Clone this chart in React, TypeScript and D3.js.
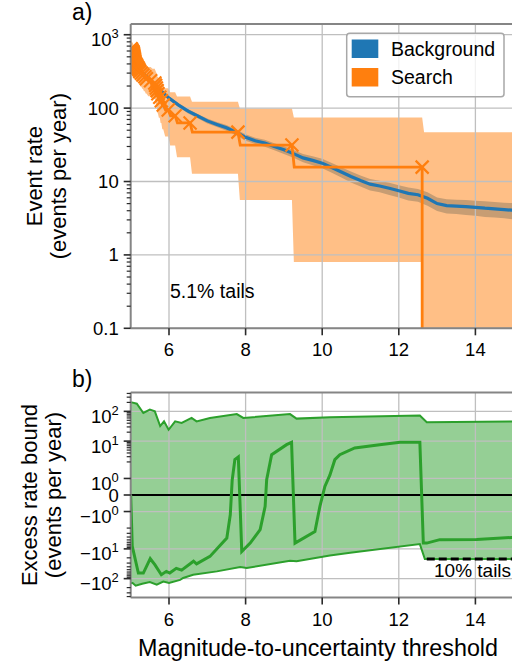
import React from "react";
import * as d3 from "d3";

const FONT = "'Liberation Sans', Arial, Helvetica, sans-serif";

// ---------- panel a: event rate ----------
const bgThreshold = [
  5.0, 5.25, 5.5, 5.75, 6.0, 6.25, 6.5, 6.75, 7.0, 7.25, 7.5, 7.75, 8.0, 8.25,
  8.5, 8.75, 9.0, 9.25, 9.5, 9.75, 10.0, 10.25, 10.5, 10.75, 11.0, 11.25, 11.5,
  11.75, 12.0, 12.25, 12.5, 12.75, 13.0, 13.25, 13.5, 13.75, 14.0, 14.25, 14.5,
  14.75, 15.0,
];
const bgRate = [
  470, 330, 241, 180, 137, 110, 91, 78, 67, 60, 54, 47, 40, 36, 33.5, 30, 27,
  24, 21, 19.4, 17.8, 15.5, 13.5, 11.7, 10.3, 9.2, 8.7, 8.1, 7.5, 6.9, 6.6, 5.9,
  5.0, 4.7, 4.62, 4.55, 4.45, 4.33, 4.25, 4.15, 4.05,
];
const bgRelErr = [
  0.04, 0.04, 0.05, 0.05, 0.06, 0.06, 0.07, 0.07, 0.08, 0.08, 0.09, 0.09, 0.1,
  0.1, 0.11, 0.11, 0.12, 0.12, 0.13, 0.14, 0.15, 0.15, 0.16, 0.17, 0.17, 0.18,
  0.18, 0.19, 0.19, 0.2, 0.2, 0.21, 0.21, 0.22, 0.22, 0.23, 0.23, 0.24, 0.24,
  0.24, 0.25,
];

// search events: threshold of each event and the rate of events at or above it
const searchThreshold = [
  5.01, 5.02, 5.03, 5.05, 5.06, 5.065, 5.07, 5.075, 5.08, 5.085, 5.09, 5.095,
  5.1, 5.105, 5.11, 5.12, 5.14, 5.16, 5.18, 5.2, 5.22, 5.24, 5.28, 5.32, 5.37,
  5.41, 5.52, 5.63, 5.65, 5.67, 5.69, 5.71, 5.76, 5.8, 5.85, 5.98, 6.16, 6.55,
  7.8, 9.21, 12.61,
];
const searchRate = [
  644, 628, 612, 597, 581, 565, 550, 534, 518, 502, 487, 471, 455, 440, 424,
  408, 393, 377, 361, 345, 330, 314, 298, 283, 267, 251, 236, 220, 204, 188,
  173, 157, 141, 126, 110, 94, 78.5, 62.8, 47.1, 31.4, 15.7,
];
// confidence band per step (last entry: beyond the final event)
const searchUpper = [
  835, 817, 800, 782, 764, 746, 729, 711, 693, 675, 657, 639, 621, 603, 585,
  567, 548, 530, 512, 493, 475, 456, 438, 419, 400, 382, 363, 344, 325, 305,
  286, 266, 247, 227, 207, 186, 165, 144, 122, 99, 74.4, 47,
];
const searchLower = [
  488, 474, 460, 447, 433, 420, 406, 393, 379, 366, 352, 339, 326, 312, 299,
  286, 273, 260, 247, 234, 221, 208, 195, 183, 170, 158, 145, 133, 121, 109, 97,
  85, 74, 62.5, 51.7, 41, 30.9, 21.4, 12.8, 5.6, 0.8, 0,
];

const xTicks = [6, 8, 10, 12, 14];
const rateTicks = [0.1, 1, 10, 100, 1000];
const rateTickLabels = ["0.1", "1", "10", "100", "10^3"];

// ---------- panel b: excess rate bound ----------
const excessUpperX = [
  5.0, 5.03, 5.16, 5.33, 5.5, 5.63, 5.77, 5.87, 5.99, 6.16, 6.33, 6.59, 6.72,
  7.07, 7.77, 7.94, 9.16, 9.33, 10.2, 12.55, 12.73, 15.0,
];
const excessUpperV = [
  200, 200, 181, 88, 114, 100, 32, 46, 24, 46, 41, 60, 46, 60, 81, 60, 81, 57,
  63, 72, 43, 46,
];
const excessLowerX = [
  5.0, 5.05, 5.13, 5.3, 5.5, 5.68, 5.85, 6.0, 6.29, 6.37, 6.63, 7.25, 7.86,
  8.03, 9.16, 9.33, 10.2, 10.73, 12.55, 12.68, 15.0,
];
const excessLowerV = [
  -140, -140, -173, -148, -130, -160, -125, -140, -110, -95, -74, -57, -41, -44,
  -25, -26, -16.6, -13.5, -6.9, -21.9, -21.9,
];
const excessMidX = [
  5.0, 5.04, 5.2, 5.33, 5.51, 5.63, 5.8, 5.93, 6.02, 6.19, 6.33, 6.64, 6.72,
  7.07, 7.51, 7.6, 7.65, 7.72, 7.81, 7.9, 8.12, 8.38, 8.51, 8.55, 8.68, 9.07,
  9.2, 9.29, 9.81, 9.94, 10.07, 10.2, 10.33, 10.46, 10.85, 11.5, 12.03, 12.55,
  12.64, 12.73, 13.07, 14.03, 15.0,
];
const excessMidV = [
  0, -8, -65, -65, -21.4, -34, -74, -57, -65, -45, -52, -26, -32, -17.9, -4.3,
  -1.2, 0.9, 2.4, 2.93, -12.2, -6.4, -2.26, -0.69, 0.93, 3.5, 7.6, 9.1, -6.4,
  -2.6, -0.69, 0.52, 1.2, 2.38, 3.5, 5.9, 7.6, 9.1, 9.1, -6.4, -6.4, -4.9, -4.8,
  -4.1,
];
const tailStart = 12.73;
const tailLevel = -21.9;

const excessTicks = [-100, -10, -1, 0, 1, 10, 100];
const excessTickLabels = ["\u221210^2", "\u221210^1", "\u221210^0", "0", "10^0", "10^1", "10^2"];

// ---------- layout ----------
const AX_L = 130.7;
const AX_R = 513.7;
const A_TOP = 24;
const A_BOT = 328.3;
const B_TOP = 392.5;
const B_BOT = 597.5;

const BLUE = "#1f77b4";
const ORANGE = "#ff7f0e";
const GREEN = "#2ca02c";
const GRID = "#bfbfbf";
const SPINE = "#858585";
const TICK = "#2a2a2a";

// matplotlib-style symmetric log transform (linthresh 2, linscale 1)
const LINTHRESH = 2;
const LINSCALE_ADJ = 1 / (1 - 1 / 10);
function symlog(v: number): number {
  const a = Math.abs(v);
  if (a <= LINTHRESH) return v * LINSCALE_ADJ;
  return Math.sign(v) * LINTHRESH * (LINSCALE_ADJ + Math.log10(a / LINTHRESH));
}

function TickText({ x, y, label, size }: { x: number; y: number; label: string; size: number }) {
  const parts = label.split("^");
  if (parts.length === 1) {
    return (
      <text x={x} y={y + 6.5} textAnchor="end" fontSize={size}>
        {parts[0]}
      </text>
    );
  }
  return (
    <text x={x} y={y + 11.5} textAnchor="end" fontSize={size}>
      {parts[0]}
      <tspan fontSize={size * 0.7} dy={-8}>
        {parts[1]}
      </tspan>
    </text>
  );
}

export default function App() {
  const x = d3.scaleLinear().domain([5, 15]).range([AX_L, AX_R]);
  const yA = d3.scaleLog().domain([0.1, 1400]).range([A_BOT, A_TOP]);
  const yAv = (v: number) => (v > 0 ? yA(v) : A_BOT + 400);
  const yBlin = d3
    .scaleLinear()
    .domain([symlog(-430), symlog(430)])
    .range([B_BOT, B_TOP]);
  const yB = (v: number) => yBlin(symlog(v));

  // ---- background curve & band ----
  const bgPts = bgThreshold.map((t, i) => ({ t, r: bgRate[i], e: bgRelErr[i] }));
  const bgLine = d3
    .line<{ t: number; r: number }>()
    .x((d) => x(d.t))
    .y((d) => yA(d.r))(bgPts);
  const bgArea = d3
    .area<{ t: number; r: number; e: number }>()
    .x((d) => x(d.t))
    .y0((d) => yA(d.r * (1 - d.e)))
    .y1((d) => yA(d.r * (1 + d.e)))(bgPts);

  // ---- search step curve & band ----
  const n = searchThreshold.length;
  const lineLevels = [...searchRate, 0];
  type StepPt = { t: number; k: number };
  const stepPts: StepPt[] = [{ t: 5.0, k: 0 }];
  for (let k = 0; k < n; k++) {
    const nextT = k + 1 < n ? searchThreshold[k + 1] : 15;
    const dx = k === n - 1 ? 0.0 : Math.min(0.06, (nextT - searchThreshold[k]) / 2);
    stepPts.push({ t: searchThreshold[k], k });
    stepPts.push({ t: searchThreshold[k] + dx, k: k + 1 });
  }
  stepPts.push({ t: 15, k: n });
  const searchLine = d3
    .line<StepPt>()
    .x((d) => x(d.t))
    .y((d) => yAv(lineLevels[d.k]))(stepPts);

  const bandPts: StepPt[] = [{ t: 5.0, k: 0 }];
  for (let k = 0; k < n; k++) {
    const nextT = k + 1 < n ? searchThreshold[k + 1] : 15;
    const dx = Math.min(0.05, (nextT - searchThreshold[k]) / 2);
    bandPts.push({ t: searchThreshold[k], k });
    bandPts.push({ t: searchThreshold[k] + dx, k: k + 1 });
  }
  bandPts.push({ t: 15, k: n });
  const searchBand = d3
    .area<StepPt>()
    .x((d) => x(d.t))
    .y0((d) => yAv(searchLower[d.k]))
    .y1((d) => yAv(searchUpper[d.k]))(bandPts);

  // ---- panel b shapes ----
  const upperPts = excessUpperX.map((t, i) => [t, excessUpperV[i]] as [number, number]);
  const lowerPts = excessLowerX.map((t, i) => [t, excessLowerV[i]] as [number, number]);
  const midPts = excessMidX.map((t, i) => [t, excessMidV[i]] as [number, number]);
  const lineB = d3
    .line<[number, number]>()
    .x((d) => x(d[0]))
    .y((d) => yB(d[1]));
  // band between the bounds, on a shared grid of thresholds
  const gridT = Array.from(new Set([...excessUpperX, ...excessLowerX])).sort((a, b) => a - b);
  const interp = (xs: number[], vs: number[], t: number) => {
    const i = Math.max(1, Math.min(xs.length - 1, d3.bisectLeft(xs, t)));
    const t0 = xs[i - 1], t1 = xs[i];
    const u = (t - t0) / (t1 - t0);
    return yB(vs[i - 1]) + u * (yB(vs[i]) - yB(vs[i - 1]));
  };
  const bandB = d3
    .area<number>()
    .x((t) => x(t))
    .y0((t) => interp(excessLowerX, excessLowerV, t))
    .y1((t) => interp(excessUpperX, excessUpperV, t))(gridT);

  // ---- ticks ----
  const minorA: number[] = [];
  for (let d = -1; d <= 3; d++)
    for (let m = 2; m <= 9; m++) {
      const v = m * Math.pow(10, d);
      if (v > 0.1 && v < 1400) minorA.push(v);
    }
  const minorB: number[] = [];
  for (let d = 0; d <= 2; d++)
    for (let m = 2; m <= 9; m++) {
      const v = m * Math.pow(10, d);
      if (v < 430) {
        minorB.push(v);
        minorB.push(-v);
      }
    }

  const markerSize = 6.5;

  return (
    <svg
      width={512}
      height={668}
      style={{ position: "absolute", left: 0, top: 0, background: "#fff" }}
      fontFamily={FONT}
    >
      <defs>
        <clipPath id="clipA">
          <rect x={AX_L} y={A_TOP} width={AX_R - AX_L} height={A_BOT - A_TOP} />
        </clipPath>
        <clipPath id="clipB">
          <rect x={AX_L} y={B_TOP} width={AX_R - AX_L} height={B_BOT - B_TOP} />
        </clipPath>
      </defs>
      <rect x={0} y={0} width={512} height={668} fill="#fff" />

      {/* ================= panel a ================= */}
      <g clipPath="url(#clipA)">
        <path d={bgArea ?? ""} fill={BLUE} fillOpacity={0.5} />
        <path d={searchBand ?? ""} fill={ORANGE} fillOpacity={0.5} />
        {xTicks.map((t) => (
          <line key={"gxa" + t} x1={x(t)} x2={x(t)} y1={A_TOP} y2={A_BOT} stroke={GRID} strokeWidth={1.3} />
        ))}
        {rateTicks.map((v) => (
          <line key={"gya" + v} x1={AX_L} x2={AX_R} y1={yA(v)} y2={yA(v)} stroke={GRID} strokeWidth={1.3} />
        ))}
        <path d={bgLine ?? ""} fill="none" stroke={BLUE} strokeWidth={3.2} />
        <path d={searchLine ?? ""} fill="none" stroke={ORANGE} strokeWidth={2.8} />
        {searchThreshold.map((t, i) => {
          const cx = x(t);
          const cy = yA(searchRate[i]);
          return (
            <path
              key={"m" + i}
              d={`M${cx - markerSize},${cy - markerSize}L${cx + markerSize},${cy + markerSize}M${cx - markerSize},${cy + markerSize}L${cx + markerSize},${cy - markerSize}`}
              stroke={ORANGE}
              strokeWidth={2.2}
              fill="none"
            />
          );
        })}
      </g>
      <text x={170} y={298} fontSize={19.5}>
        5.1% tails
      </text>

      {/* legend */}
      <g>
        <rect x={346.7} y={33.3} width={157.3} height={63.4} rx={3} fill="#fff" fillOpacity={0.8} stroke="#a8a8a8" strokeWidth={1.5} />
        <rect x={351.7} y={39.5} width={26.6} height={18.5} fill={BLUE} />
        <rect x={351.7} y={68} width={26.6} height={18.5} fill={ORANGE} />
        <text x={391} y={56} fontSize={19.5}>Background</text>
        <text x={391} y={83.5} fontSize={19.5}>Search</text>
      </g>

      {/* axes a */}
      <line x1={AX_L} x2={AX_R} y1={A_TOP} y2={A_TOP} stroke={SPINE} strokeWidth={2} />
      <line x1={AX_L} x2={AX_L} y1={A_TOP} y2={A_BOT} stroke={SPINE} strokeWidth={2} />
      <line x1={AX_L} x2={AX_R} y1={A_BOT} y2={A_BOT} stroke={SPINE} strokeWidth={2} />
      {minorA.map((v) => (
        <line key={"mna" + v} x1={AX_L - 4} x2={AX_L} y1={yA(v)} y2={yA(v)} stroke={TICK} strokeWidth={1.2} />
      ))}
      {rateTicks.map((v, i) => (
        <g key={"ta" + v}>
          <line x1={AX_L - 7} x2={AX_L} y1={yA(v)} y2={yA(v)} stroke={TICK} strokeWidth={1.6} />
          <TickText x={AX_L - 12} y={yA(v)} label={rateTickLabels[i]} size={18.5} />
        </g>
      ))}
      {xTicks.map((t) => (
        <g key={"txa" + t}>
          <line x1={x(t)} x2={x(t)} y1={A_BOT} y2={A_BOT + 7} stroke={TICK} strokeWidth={1.6} />
          <text x={x(t)} y={A_BOT + 28} textAnchor="middle" fontSize={18.5}>
            {t}
          </text>
        </g>
      ))}
      <text x={72} y={20} fontSize={23}>a)</text>
      <text transform={`translate(42,${(A_TOP + A_BOT) / 2}) rotate(-90)`} textAnchor="middle" fontSize={22}>
        Event rate
      </text>
      <text transform={`translate(66,${(A_TOP + A_BOT) / 2}) rotate(-90)`} textAnchor="middle" fontSize={22}>
        (events per year)
      </text>

      {/* ================= panel b ================= */}
      <g clipPath="url(#clipB)">
        <path d={bandB ?? ""} fill={GREEN} fillOpacity={0.5} />
        {xTicks.map((t) => (
          <line key={"gxb" + t} x1={x(t)} x2={x(t)} y1={B_TOP} y2={B_BOT} stroke={GRID} strokeWidth={1.3} />
        ))}
        {excessTicks.map((v) => (
          <line key={"gyb" + v} x1={AX_L} x2={AX_R} y1={yB(v)} y2={yB(v)} stroke={GRID} strokeWidth={1.3} />
        ))}
        <line x1={AX_L} x2={AX_R} y1={yB(0)} y2={yB(0)} stroke="#000" strokeWidth={1.8} />
        <path d={lineB(upperPts) ?? ""} fill="none" stroke={GREEN} strokeWidth={2} />
        <path d={lineB(lowerPts) ?? ""} fill="none" stroke={GREEN} strokeWidth={2} />
        <path d={lineB(midPts) ?? ""} fill="none" stroke={GREEN} strokeWidth={3} />
        <line
          x1={x(tailStart)}
          x2={AX_R}
          y1={yB(tailLevel)}
          y2={yB(tailLevel)}
          stroke="#000"
          strokeWidth={3}
          strokeDasharray="8,4"
        />
      </g>
      <text x={434} y={576.5} fontSize={19}>
        10% tails
      </text>

      {/* axes b */}
      <line x1={AX_L} x2={AX_R} y1={B_TOP} y2={B_TOP} stroke={SPINE} strokeWidth={2} />
      <line x1={AX_L} x2={AX_L} y1={B_TOP} y2={B_BOT} stroke={SPINE} strokeWidth={2} />
      <line x1={AX_L} x2={AX_R} y1={B_BOT} y2={B_BOT} stroke={SPINE} strokeWidth={2} />
      {minorB.map((v) => (
        <line key={"mnb" + v} x1={AX_L - 4} x2={AX_L} y1={yB(v)} y2={yB(v)} stroke={TICK} strokeWidth={1.2} />
      ))}
      {excessTicks.map((v, i) => (
        <g key={"tb" + v}>
          <line x1={AX_L - 7} x2={AX_L} y1={yB(v)} y2={yB(v)} stroke={TICK} strokeWidth={1.6} />
          <TickText x={AX_L - 12} y={yB(v)} label={excessTickLabels[i]} size={18.5} />
        </g>
      ))}
      {xTicks.map((t) => (
        <g key={"txb" + t}>
          <line x1={x(t)} x2={x(t)} y1={B_BOT} y2={B_BOT + 7} stroke={TICK} strokeWidth={1.6} />
          <text x={x(t)} y={B_BOT + 28} textAnchor="middle" fontSize={18.5}>
            {t}
          </text>
        </g>
      ))}
      <text x={72} y={387} fontSize={23}>b)</text>
      <text transform={`translate(37,${(B_TOP + B_BOT) / 2}) rotate(-90)`} textAnchor="middle" fontSize={22}>
        Excess rate bound
      </text>
      <text transform={`translate(61,${(B_TOP + B_BOT) / 2}) rotate(-90)`} textAnchor="middle" fontSize={22}>
        (events per year)
      </text>

      <text x={318} y={656} textAnchor="middle" fontSize={23.3}>
        Magnitude-to-uncertainty threshold
      </text>
    </svg>
  );
}
